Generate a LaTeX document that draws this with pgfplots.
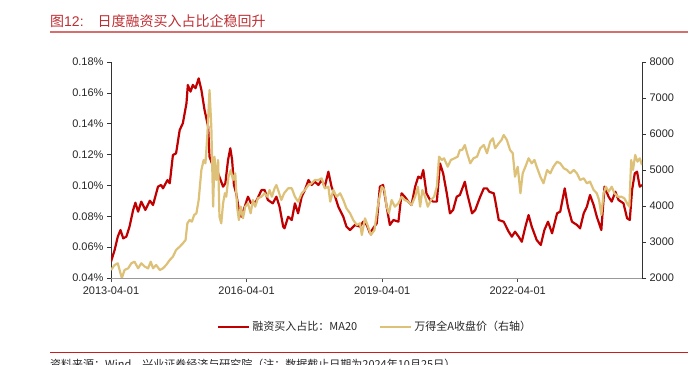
\documentclass[border=0pt]{standalone}
\usepackage{pgfplots}
\pgfplotsset{compat=1.18}
\usepackage{fontspec}
\setmainfont{Liberation Sans}
\newfontfamily\cjk{Noto Sans CJK SC}
\definecolor{rzred}{RGB}{192,0,0}
\definecolor{wdgold}{RGB}{222,193,120}
\definecolor{titlered}{RGB}{190,45,50}
\begin{document}
\begin{tikzpicture}[x=1pt,y=1pt]
\useasboundingbox (0,0) rectangle (698,364);
% title
\node[anchor=base west,inner sep=0,text=titlered,font=\fontsize{14}{16}\selectfont] at (50,337) {{\cjk 图}12:\hspace{14pt}{\cjk 日度融资买入占比企稳回升}};
\draw[color={rgb,255:red,215;green,110;blue,110},line width=1.5pt] (50,332) -- (688,332);
% bottom rule and source
\draw[color={rgb,255:red,200;green,30;blue,30},line width=1pt] (50,12) -- (688,12);
\node[anchor=base west,inner sep=0,font=\fontsize{11}{13}\selectfont\cjk,text=black!85] at (50,-4) {资料来源：Wind，兴业证券经济与研究院（注：数据截止日期为2024年10月25日）};

\begin{axis}[
  at={(111pt,86pt)}, anchor=south west,
  scale only axis, width=531pt, height=216pt,
  xmin=2013.25, xmax=2025.0,
  ymin=0.04, ymax=0.18,
  axis x line*=bottom, axis y line*=left,
  x axis line style={draw=gray!80, line width=1pt},
  y axis line style={draw=black!80, line width=0.8pt},
  xtick={2013.25,2016.25,2019.25,2022.25},
  xticklabels={2013-04-01,2016-04-01,2019-04-01,2022-04-01},
  ytick={0.04,0.06,0.08,0.10,0.12,0.14,0.16,0.18},
  yticklabel={\pgfmathprintnumber[fixed,fixed zerofill,precision=2]{\tick}\%},
  /pgf/number format/assume math mode=true,
  tick align=outside, major tick length=4pt,
  xtick style={draw=black!70, line width=0.6pt},
  ytick style={draw=black!80, line width=0.6pt},
  ticklabel style={font=\fontsize{11}{13}\selectfont, text=black!85},
  xticklabel style={yshift=-1pt},
  legend columns=2,
  legend style={at={(0.194,-0.227)}, anchor=west, draw=none, fill=none,
    font=\fontsize{11}{13}\selectfont\cjk, text=black!85,
    /tikz/every even column/.append style={column sep=20pt}},
  legend image code/.code={\draw[#1] (0pt,0pt) -- (31pt,0pt);},
]
\addplot[rzred, line width=2.2pt, line join=round] coordinates {
(2013.25,0.0506)(2013.33,0.0581)(2013.40,0.0668)(2013.46,0.0711)(2013.52,0.0657)(2013.59,0.0668)(2013.66,0.0733)(2013.74,0.0841)(2013.79,0.0888)(2013.85,0.0830)(2013.92,0.0895)(2014.01,0.0841)(2014.11,0.0901)(2014.18,0.0873)(2014.29,0.0992)(2014.36,0.1003)(2014.40,0.0981)(2014.50,0.1035)(2014.55,0.1014)(2014.62,0.1197)(2014.69,0.1208)(2014.77,0.1359)(2014.84,0.1403)(2014.92,0.1532)(2014.95,0.1651)(2015.01,0.1608)(2015.06,0.1651)(2015.12,0.1630)(2015.19,0.1694)(2015.25,0.1619)(2015.32,0.1489)(2015.40,0.1381)(2015.43,0.1186)(2015.51,0.1121)(2015.62,0.1078)(2015.73,0.0992)(2015.78,0.1014)(2015.84,0.1165)(2015.89,0.1241)(2015.93,0.1165)(2015.97,0.1003)(2016.02,0.0949)(2016.08,0.0841)(2016.13,0.0797)(2016.21,0.0862)(2016.28,0.0927)(2016.35,0.0884)(2016.46,0.0895)(2016.58,0.0970)(2016.65,0.0970)(2016.72,0.0906)(2016.83,0.0884)(2016.91,0.0927)(2016.98,0.0862)(2017.06,0.0733)(2017.09,0.0722)(2017.17,0.0797)(2017.25,0.0776)(2017.32,0.0884)(2017.39,0.0819)(2017.47,0.0927)(2017.54,0.0970)(2017.62,0.1035)(2017.69,0.1003)(2017.76,0.1024)(2017.84,0.1003)(2017.91,0.1035)(2017.98,0.0992)(2018.06,0.1089)(2018.13,0.0992)(2018.21,0.0927)(2018.28,0.0862)(2018.39,0.0797)(2018.46,0.0733)(2018.54,0.0711)(2018.65,0.0744)(2018.76,0.0733)(2018.83,0.0765)(2018.91,0.0744)(2018.98,0.0690)(2019.05,0.0722)(2019.13,0.0754)(2019.20,0.0992)(2019.27,0.1003)(2019.35,0.0862)(2019.42,0.0744)(2019.50,0.0776)(2019.61,0.0765)(2019.68,0.0949)(2019.75,0.0927)(2019.83,0.0895)(2019.90,0.0873)(2019.98,0.0992)(2020.05,0.1057)(2020.11,0.1046)(2020.16,0.1100)(2020.23,0.0949)(2020.31,0.0906)(2020.38,0.0895)(2020.46,0.0895)(2020.53,0.1143)(2020.60,0.1078)(2020.68,0.0949)(2020.75,0.0819)(2020.82,0.0841)(2020.90,0.0927)(2020.97,0.0938)(2021.08,0.1024)(2021.13,0.0949)(2021.24,0.0819)(2021.31,0.0841)(2021.42,0.0927)(2021.50,0.0981)(2021.57,0.0981)(2021.62,0.0959)(2021.72,0.0949)(2021.75,0.0906)(2021.83,0.0776)(2021.94,0.0765)(2022.05,0.0700)(2022.12,0.0668)(2022.19,0.0700)(2022.27,0.0668)(2022.34,0.0635)(2022.42,0.0733)(2022.49,0.0808)(2022.56,0.0733)(2022.67,0.0646)(2022.76,0.0614)(2022.84,0.0711)(2022.92,0.0765)(2023.01,0.0690)(2023.12,0.0819)(2023.19,0.0830)(2023.29,0.0981)(2023.36,0.0862)(2023.45,0.0765)(2023.56,0.0744)(2023.63,0.0722)(2023.71,0.0819)(2023.78,0.0862)(2023.85,0.0938)(2023.93,0.0873)(2024.00,0.0797)(2024.10,0.0711)(2024.17,0.0992)(2024.26,0.0927)(2024.33,0.0895)(2024.41,0.0959)(2024.48,0.0906)(2024.59,0.0884)(2024.67,0.0787)(2024.73,0.0776)(2024.78,0.0970)(2024.84,0.1078)(2024.89,0.1089)(2024.95,0.0992)(2025.00,0.1003)
};
\addlegendentry{融资买入占比：MA20}
\addlegendimage{wdgold, line width=2.2pt}
\addlegendentry{万得全A收盘价（右轴）}
\end{axis}

\begin{axis}[
  at={(111pt,86pt)}, anchor=south west,
  scale only axis, width=531pt, height=216pt,
  xmin=2013.25, xmax=2025.0,
  ymin=2000, ymax=8000,
  axis x line=none, axis y line*=right,
  y axis line style={draw=black!80, line width=0.8pt},
  ytick={2000,3000,4000,5000,6000,7000,8000},
  /pgf/number format/1000 sep={},
  /pgf/number format/assume math mode=true,
  tick align=outside, major tick length=4pt,
  ytick style={draw=black!80, line width=0.6pt},
  ticklabel style={font=\fontsize{11}{13}\selectfont, text=black!85},
]
\addplot[wdgold, line width=2.2pt, line join=round] coordinates {
(2013.25,2222)(2013.33,2361)(2013.40,2408)(2013.46,2130)(2013.49,2000)(2013.55,2222)(2013.63,2269)(2013.70,2408)(2013.77,2453)(2013.85,2269)(2013.92,2408)(2014.00,2314)(2014.07,2269)(2014.13,2453)(2014.18,2269)(2014.25,2361)(2014.33,2222)(2014.40,2269)(2014.47,2361)(2014.55,2500)(2014.62,2592)(2014.69,2778)(2014.77,2870)(2014.84,2963)(2014.90,3056)(2014.94,3519)(2014.99,3611)(2015.04,3564)(2015.09,3750)(2015.14,3797)(2015.19,4167)(2015.25,5000)(2015.30,5278)(2015.34,5186)(2015.38,5925)(2015.43,7222)(2015.47,6203)(2015.51,3981)(2015.54,5370)(2015.58,4722)(2015.62,5278)(2015.65,3703)(2015.69,3519)(2015.73,4075)(2015.77,4353)(2015.80,4258)(2015.85,4814)(2015.90,5000)(2015.95,4722)(2016.00,4908)(2016.04,3981)(2016.08,3611)(2016.12,3981)(2016.17,3658)(2016.22,3981)(2016.28,4075)(2016.34,3797)(2016.39,4167)(2016.44,3981)(2016.50,4214)(2016.58,4258)(2016.65,4353)(2016.71,4258)(2016.76,4444)(2016.81,4258)(2016.87,4492)(2016.91,4583)(2016.96,4397)(2017.02,4167)(2017.08,4353)(2017.17,4492)(2017.25,4492)(2017.32,4258)(2017.39,4120)(2017.47,4353)(2017.54,4444)(2017.62,4583)(2017.69,4631)(2017.76,4722)(2017.84,4722)(2017.91,4769)(2017.98,4492)(2018.06,4536)(2018.10,4120)(2018.17,4444)(2018.24,4258)(2018.32,4353)(2018.39,4167)(2018.46,3936)(2018.54,3797)(2018.61,3611)(2018.69,3472)(2018.76,3519)(2018.80,3194)(2018.87,3658)(2018.94,3425)(2019.00,3194)(2019.08,3333)(2019.15,3981)(2019.24,4536)(2019.30,4444)(2019.35,3981)(2019.40,3797)(2019.46,4167)(2019.53,3981)(2019.61,4075)(2019.68,4258)(2019.75,4167)(2019.83,4120)(2019.90,4028)(2019.98,4258)(2020.04,4536)(2020.09,3981)(2020.14,4444)(2020.20,4258)(2020.26,3981)(2020.33,4167)(2020.40,4258)(2020.46,4536)(2020.51,5370)(2020.57,5278)(2020.62,5325)(2020.70,5092)(2020.77,5278)(2020.85,5325)(2020.92,5370)(2020.97,5556)(2021.02,5556)(2021.08,5695)(2021.13,5464)(2021.20,5186)(2021.27,5325)(2021.35,5370)(2021.42,5603)(2021.50,5695)(2021.57,5464)(2021.64,5786)(2021.70,5881)(2021.75,5603)(2021.83,5742)(2021.89,5833)(2021.94,5972)(2022.01,5833)(2022.08,5556)(2022.14,5464)(2022.19,4814)(2022.25,5092)(2022.31,4353)(2022.36,4908)(2022.42,5092)(2022.49,5325)(2022.56,5186)(2022.62,5278)(2022.67,5092)(2022.75,4814)(2022.82,4631)(2022.90,5000)(2022.97,4908)(2023.04,5092)(2023.12,5231)(2023.19,5186)(2023.27,5047)(2023.34,5000)(2023.41,4908)(2023.49,5000)(2023.56,4908)(2023.63,4722)(2023.71,4769)(2023.78,4631)(2023.85,4675)(2023.93,4444)(2024.00,4353)(2024.05,4167)(2024.10,3750)(2024.15,4353)(2024.20,4536)(2024.26,4397)(2024.33,4536)(2024.39,4353)(2024.47,4258)(2024.54,4258)(2024.61,4214)(2024.67,4075)(2024.72,3981)(2024.76,5278)(2024.80,5000)(2024.85,5417)(2024.90,5231)(2024.95,5325)(2025.00,5139)
};
\end{axis}
\end{tikzpicture}
\end{document}
